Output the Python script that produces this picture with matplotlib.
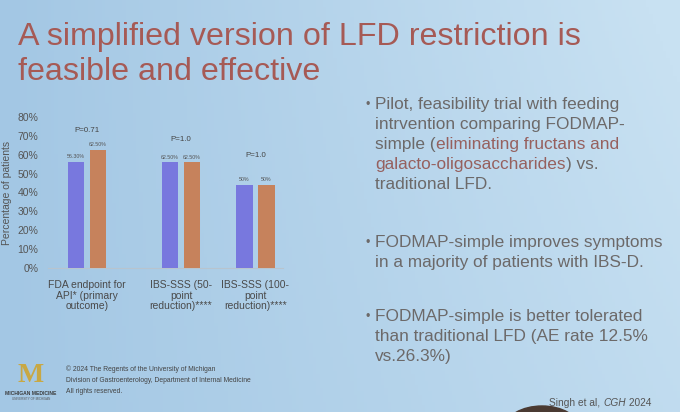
import numpy as np
import matplotlib
matplotlib.use("Agg")
import matplotlib.pyplot as plt
from matplotlib.patches import Ellipse

plt.rcParams['font.family'] = ['Liberation Sans', 'DejaVu Sans']

# data
categories = ["FDA endpoint for\nAPI* (primary\noutcome)",
              "IBS-SSS (50-\npoint\nreduction)****",
              "IBS-SSS (100-\npoint\nreduction)****"]
simple_vals = [56.3, 56.0, 44.0]        # bar heights as drawn
trad_vals = [62.5, 56.0, 44.0]
simple_labels = ["56.30%", "62.50%", "50%"]
trad_labels = ["62.50%", "62.50%", "50%"]
p_values = ["P=0.71", "P=1.0", "P=1.0"]
yticks = [0, 10, 20, 30, 40, 50, 60, 70, 80]

title_lines = ["A simplified version of LFD restriction is",
               "feasible and effective"]
bullet2 = ["FODMAP-simple improves symptoms",
           "in a majority of patients with IBS-D."]
bullet3 = ["FODMAP-simple is better tolerated",
           "than traditional LFD (AE rate 12.5%",
           "vs.26.3%)"]
copyright_lines = ["\u00a9 2024 The Regents of the University of Michigan",
                   "Division of Gastroenterology, Department of Internal Medicine",
                   "All rights reserved."]

fig = plt.figure(figsize=(6.8, 4.12), dpi=100)

# background: slide photo gradient
bg = fig.add_axes([0, 0, 1, 1], zorder=0)
bg.set_xlim(0, 680)
bg.set_ylim(412, 0)
bg.axis("off")
xx, yy = np.meshgrid(np.linspace(0, 1, 200), np.linspace(0, 1, 120))
left = np.array([163, 199, 228]) / 255
right = np.array([200, 225, 242]) / 255
t = np.clip(xx * 0.8 + (1 - yy) * 0.25 * xx, 0, 1)[..., None]
img = left * (1 - t) + right * t
bg.imshow(img, extent=(0, 680, 412, 0), aspect="auto", zorder=0)
bg.add_patch(Ellipse((542, 428), 74, 44, color="#4a3a32", zorder=1))

title_col = "#A65A55"
bg.text(18, 45, title_lines[0], fontsize=23.2, color=title_col, va="baseline")
bg.text(18, 80, title_lines[1], fontsize=23.2, color=title_col, va="baseline")

gray = "#6C6969"
red = "#96605E"
fs = 12.4
# bullet 1 with highlighted words
bg.text(365, 108, "\u2022", fontsize=9, color=gray, va="baseline")
bg.text(375, 109, "Pilot, feasibility trial with feeding", fontsize=fs, color=gray, va="baseline")
bg.text(375, 129, "intrvention comparing FODMAP-", fontsize=fs, color=gray, va="baseline")
a = bg.text(375, 149, "simple (", fontsize=fs, color=gray, va="baseline")
bg.annotate("eliminating fructans and", xy=(1, 0), xycoords=a, fontsize=fs,
            color=red, va="bottom", ha="left")
b = bg.text(375, 169, "galacto-oligosaccharides", fontsize=fs, color=red, va="baseline")
bg.annotate(") vs.", xy=(1, 0), xycoords=b, fontsize=fs, color=gray, va="bottom", ha="left")
bg.text(375, 189, "traditional LFD.", fontsize=fs, color=gray, va="baseline")

for lines, y0 in [(bullet2, 247), (bullet3, 321)]:
    bg.text(365, y0 - 1, "\u2022", fontsize=9, color=gray, va="baseline")
    for i, line in enumerate(lines):
        bg.text(375, y0 + 20 * i, line, fontsize=fs, color=gray, va="baseline")

# footer
for i, line in enumerate(copyright_lines):
    bg.text(66, 371 + 11 * i, line, fontsize=4.9, color="#444444", va="baseline")
bg.text(31, 382, "M", fontsize=20, fontweight="bold", family="Liberation Serif",
        color="#C8A844", ha="center", va="baseline")
bg.text(31, 395, "MICHIGAN MEDICINE", fontsize=3.6, fontweight="bold",
        color="#3a3a3a", ha="center", va="baseline")
bg.text(31, 400, "UNIVERSITY OF MICHIGAN", fontsize=2.2, color="#555555",
        ha="center", va="baseline")
s = bg.text(549, 406, "Singh et al, ", fontsize=7.3, color="#555555", va="baseline")
c = bg.annotate("CGH", xy=(1, 0), xycoords=s, fontsize=7.3, style="italic",
                color="#555555", va="bottom", ha="left")
bg.annotate(" 2024", xy=(1, 0), xycoords=c, fontsize=7.3, color="#555555",
            va="bottom", ha="left")

# chart
ax = fig.add_axes([48 / 680, (412 - 268) / 412, 235 / 680, 151 / 412], zorder=2)
ax.patch.set_alpha(0)
x = np.array([0, 1, 1.79])
w = 0.18
off = 0.117
purple = "#7878DE"
orange = "#C6825C"
b1 = ax.bar(x - off, simple_vals, w, color=purple, zorder=3)
b2 = ax.bar(x + off, trad_vals, w, color=orange, zorder=3)
ax.bar_label(b1, labels=simple_labels, padding=2, fontsize=3.8, color="#555555")
ax.bar_label(b2, labels=trad_labels, padding=2, fontsize=3.8, color="#555555")

p_offsets = [8.5, 10.0, 14.0]
for xi, s1, s2, p, o in zip(x, simple_vals, trad_vals, p_values, p_offsets):
    ax.text(xi, max(s1, s2) + o, p, fontsize=5.7, color="#444444",
            ha="center", va="bottom")

ax.set_xlim(-0.415, 2.085)
ax.set_ylim(0, 80)
ax.set_yticks(yticks)
ax.set_yticklabels([f"{v}%" for v in yticks], fontsize=7.5, color="#555555")
ax.set_xticks(x)
ax.set_xticklabels(categories, fontsize=7.5, color="#4a4a4a", linespacing=1.05)
ax.tick_params(axis="y", length=0, pad=7)
ax.tick_params(axis="x", length=0, pad=9)
for sp in ["top", "right", "left"]:
    ax.spines[sp].set_visible(False)
ax.spines["bottom"].set_color("#B8C4CE")
ax.spines["bottom"].set_linewidth(0.8)
ax.set_ylabel("Percentage of patients", fontsize=7.5, color="#555555", labelpad=4)

fig.savefig("out.png", dpi=100)
